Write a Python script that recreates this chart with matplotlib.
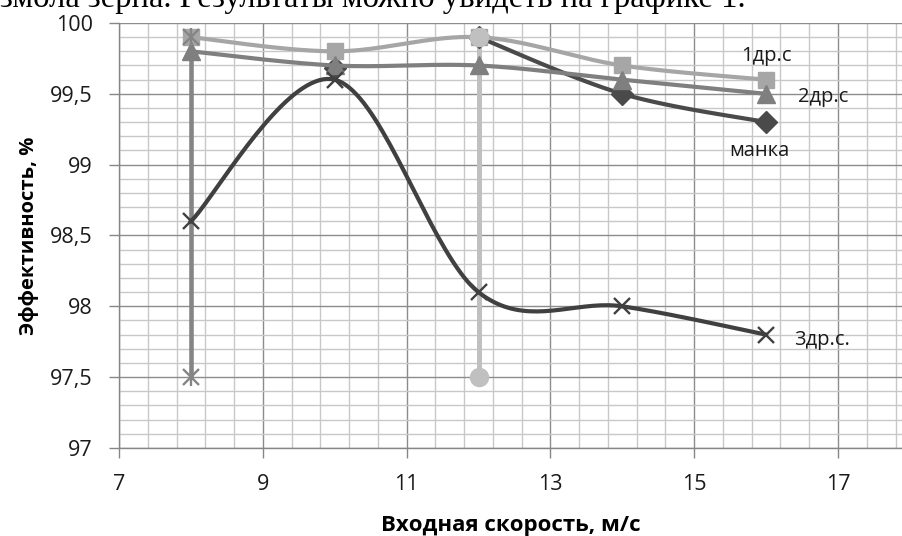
import numpy as np
import matplotlib
matplotlib.use("Agg")
import matplotlib.pyplot as plt
from matplotlib.ticker import FixedLocator, FuncFormatter, MultipleLocator

# ---- data ----
speed = [8, 10, 12, 14, 16]
eff_1dr = [99.9, 99.8, 99.9, 99.7, 99.6]
eff_2dr = [99.8, 99.7, 99.7, 99.6, 99.5]
eff_3dr = [98.6, 99.6, 98.1, 98.0, 97.8]
manka_x = [12, 14, 16]
manka_y = [99.9, 99.5, 99.3]
manka_extra_x = [10]
manka_extra_y = [99.68]
vert8_x = [8, 8]
vert8_y = [99.9, 97.5]
vert12_x = [12, 12]
vert12_y = [99.9, 97.5]

x_major_ticks = [7, 9, 11, 13, 15, 17]

labels = ["1др.с", "2др.с", "манка", "3др.с."]
label_x = [16.0, 16.8, 15.9, 16.78]
label_y = [99.77, 99.48, 99.10, 97.76]

TOP_TEXT = "змола зерна. Результаты можно увидеть на графике 1."

FONT = ["Open Sans", "DejaVu Sans"]


def excel_smooth(x, y, n=40):
    x = np.asarray(x, float)
    y = np.asarray(y, float)
    P = np.column_stack([x, y])
    out = [P[0]]
    m = len(P)
    for i in range(m - 1):
        p0 = P[i - 1] if i > 0 else P[i]
        p1 = P[i]
        p2 = P[i + 1]
        p3 = P[i + 2] if i + 2 < m else P[i + 1]
        c1 = p1 + (p2 - p0) / 6.0
        c2 = p2 - (p3 - p1) / 6.0
        t = np.linspace(0, 1, n)[1:, None]
        seg = ((1 - t) ** 3) * p1 + 3 * ((1 - t) ** 2) * t * c1 + 3 * (1 - t) * t ** 2 * c2 + t ** 3 * p2
        out.extend(seg)
    out = np.array(out)
    return out[:, 0], out[:, 1]


fig = plt.figure(figsize=(9.02, 5.36), dpi=100)
ax = fig.add_axes([119 / 902, 1 - 448 / 536, 10.9 * 71.9 / 902, 425 / 536])
ax.set_xlim(7, 17.9)
ax.set_ylim(97, 100)

ax.xaxis.set_major_locator(FixedLocator(x_major_ticks))
ax.xaxis.set_minor_locator(FixedLocator(np.arange(7, 18, 0.4)))
ax.yaxis.set_major_locator(MultipleLocator(0.5))
ax.yaxis.set_minor_locator(MultipleLocator(0.1))
ax.grid(which="major", color="#8c8c8c", linewidth=1.0)
ax.grid(which="minor", color="#c8c8c8", linewidth=1.0)
ax.set_axisbelow(True)

for s in ["top", "right"]:
    ax.spines[s].set_visible(False)
for s in ["left", "bottom"]:
    ax.spines[s].set_color("#868686")
    ax.spines[s].set_linewidth(1.0)

ax.tick_params(which="major", direction="out", length=7, color="#868686", width=1,
               labelsize=15.5, labelcolor="#1a1a1a")
ax.tick_params(which="minor", length=0)
ax.tick_params(axis="x", pad=12)
ax.tick_params(axis="y", pad=12)
ax.xaxis.set_major_formatter(FuncFormatter(lambda v, p: f"{v:g}"))
ax.yaxis.set_major_formatter(FuncFormatter(lambda v, p: f"{v:g}".replace(".", ",")))
for lab in ax.get_xticklabels() + ax.get_yticklabels():
    lab.set_family(FONT)

# vertical series
ax.plot(vert8_x, vert8_y, color="#858585", linewidth=3.3, zorder=2)
ax.plot(vert8_x, vert8_y, linestyle="none", marker="x", markersize=11, markeredgewidth=1.7,
        color="#858585", zorder=6)
ax.plot(vert8_x, vert8_y, linestyle="none", marker="|", markersize=13, markeredgewidth=1.7,
        color="#858585", zorder=6)
ax.plot(vert12_x, vert12_y, color="#c0c0c0", linewidth=3.6, zorder=2)
ax.plot(vert12_x, vert12_y, linestyle="none", marker="o", markersize=13,
        color="#c0c0c0", zorder=6)

# манка
sx, sy = excel_smooth(manka_x, manka_y)
ax.plot(sx, sy, color="#4a4a4a", linewidth=3, zorder=3)
ax.plot(manka_x, manka_y, linestyle="none", marker="D", markersize=11.5, color="#4a4a4a", zorder=3)
ax.plot(manka_extra_x, manka_extra_y, linestyle="none", marker="D", markersize=11.5,
        color="#4a4a4a", zorder=3)

# 1 др.с
sx, sy = excel_smooth(speed, eff_1dr)
ax.plot(sx, sy, color="#a6a6a6", linewidth=3, zorder=4)
ax.plot(speed, eff_1dr, linestyle="none", marker="s", markersize=12, color="#a6a6a6", zorder=4)

# 2 др.с
sx, sy = excel_smooth(speed, eff_2dr)
ax.plot(sx, sy, color="#7f7f7f", linewidth=3, zorder=5)
ax.plot(speed, eff_2dr, linestyle="none", marker="^", markersize=12.5, color="#7f7f7f", zorder=5)

# 3 др.с
sx, sy = excel_smooth(speed, eff_3dr)
ax.plot(sx, sy, color="#404040", linewidth=3, zorder=5)
ax.plot(speed, eff_3dr, linestyle="none", marker="x", markersize=12, markeredgewidth=1.7,
        color="#404040", zorder=5)

for t, xx, yy in zip(labels, label_x, label_y):
    ax.text(xx, yy, t, ha="center", va="center", fontsize=14.5, family=FONT,
            color="#1a1a1a", zorder=7)

ax.set_xlabel("Входная скорость, м/с", fontsize=16, fontweight="bold", family=FONT, labelpad=14)
ax.set_ylabel("Эффективность, %", fontsize=14.5, fontweight="bold", family=FONT, labelpad=8)

fig.text(0.0, 1 - 7 / 536, TOP_TEXT, ha="left", va="baseline", fontsize=23.5,
         family=["Liberation Serif", "DejaVu Serif"], color="#000000")

fig.savefig("out.png", dpi=100)
